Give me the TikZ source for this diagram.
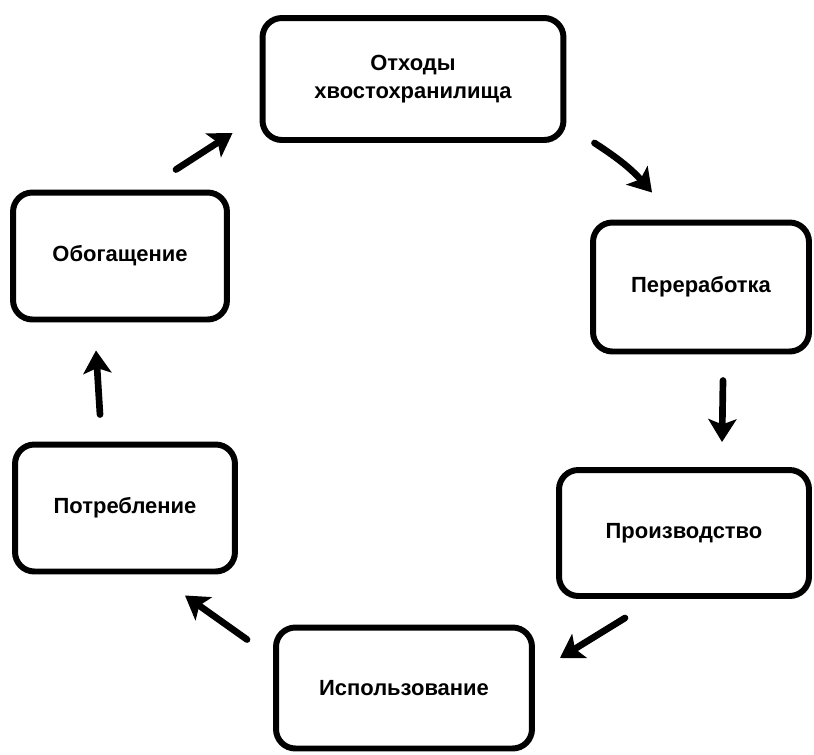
\documentclass[tikz,border=0pt]{standalone}
\usepackage{fontspec}
\setmainfont{Liberation Sans}
\usepackage{xcolor}
\usetikzlibrary{positioning, arrows.meta}
\definecolor{cLine}{HTML}{000000}
\tikzset{
  stage/.style 2 args={
    rectangle, rounded corners=11pt,
    minimum width=#1, minimum height=#2,
    align=center, font=\fontsize{12.5}{16}\selectfont\bfseries,
    draw=cLine, fill=white, text=cLine,
    line width=3.4pt
  },
  flow/.style={
    -{Stealth[length=13pt, width=16pt, inset=3pt]},
    line width=3.8pt, color=cLine, line cap=round
  }
}

\begin{document}
\begin{tikzpicture}[x=0.02cm, y=-0.02cm]

\useasboundingbox (0,0) rectangle (814,754);

%% ── Nodes ────────────────────────────────────────────────────────

% tailings
\node[stage={6.02cm}{2.44cm}] (otx) at (413,79) {Отходы\\хвостохранилища};

% processing
\node[stage={4.32cm}{2.58cm}] (pererab) at (701,287) {Переработка};

% production
\node[stage={5.0cm}{2.52cm}] (proizv) at (684,533) {Производство};

% use
\node[stage={5.12cm}{2.42cm}] (ispol) at (404,688) {Использование};

% consumption
\node[stage={4.4cm}{2.54cm}] (potreb) at (125,508) {Потребление};

% enrichment
\node[stage={4.28cm}{2.54cm}] (obog) at (120,256) {Обогащение};

%% ── Arrows ───────────────────────────────────────────────────────

% enrichment -> tailings
\draw[flow] ([shift={(56,-20)}]obog.north) -- ([shift={(-27,-10)}]otx.south west);

% tailings -> processing
\draw[flow] ([shift={(28,0)}]otx.south east) to[bend left=8] ([shift={(62,-27)}]pererab.north west);

% processing -> production
\draw[flow] ([shift={(22,26)}]pererab.south) -- ([shift={(38,-25)}]proizv.north);

% production -> use
\draw[flow] ([shift={(-59,19)}]proizv.south) -- ([shift={(25,-30)}]ispol.east);

% use -> consumption
\draw[flow] ([shift={(-26,15)}]ispol.north west) -- ([shift={(-53,21)}]potreb.south east);

% consumption -> enrichment
\draw[flow] ([shift={(-25,-27)}]potreb.north) -- ([shift={(-24,28)}]obog.south);

\end{tikzpicture}
\end{document}
